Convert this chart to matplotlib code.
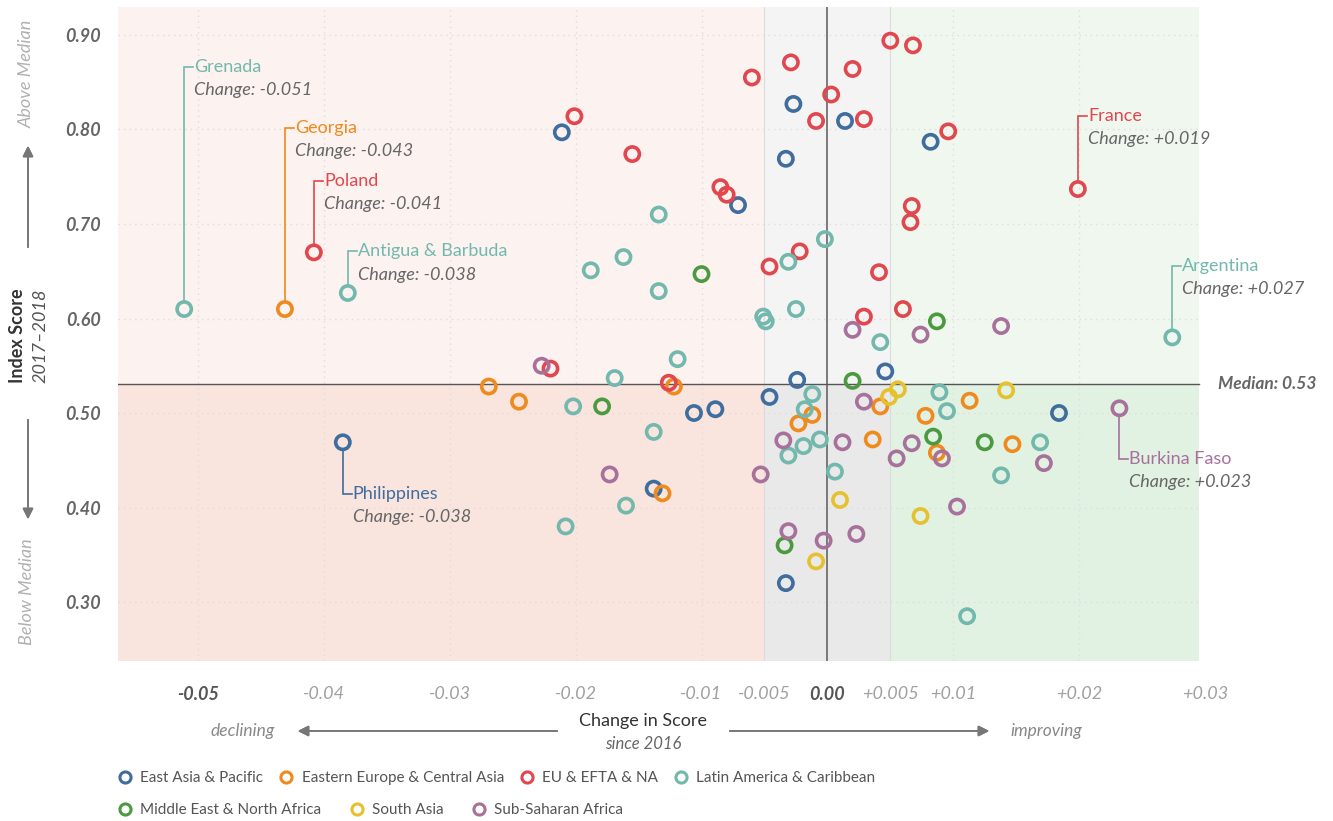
import matplotlib.pyplot as plt
from matplotlib.lines import Line2D

plt.rcParams['font.family'] = ['Lato', 'DejaVu Sans']

# ---- data -------------------------------------------------------------
regions = ['East Asia & Pacific', 'Eastern Europe & Central Asia', 'EU & EFTA & NA',
           'Latin America & Caribbean', 'Middle East & North Africa', 'South Asia',
           'Sub-Saharan Africa']
colors = ['#3f6d9e', '#ee8a1e', '#e0474f', '#72b8ad', '#4b9a3f', '#e6c12f', '#a7719b']

eap_x = [-0.0211, -0.0027, -0.0033, -0.0071, 0.0014, 0.0082, 0.0046, -0.0024, -0.0046,
         -0.0106, -0.0089, 0.0184, -0.0138, -0.0033, -0.0385]
eap_y = [0.797, 0.827, 0.769, 0.720, 0.809, 0.787, 0.544, 0.535, 0.517,
         0.500, 0.504, 0.500, 0.420, 0.320, 0.469]

eeca_x = [-0.0431, -0.0269, -0.0245, -0.0122, -0.0131, -0.0023, -0.0012, 0.0042, 0.0036,
          0.0078, 0.0087, 0.0113, 0.0147]
eeca_y = [0.610, 0.528, 0.512, 0.528, 0.415, 0.489, 0.498, 0.507, 0.472,
          0.497, 0.458, 0.513, 0.467]

eu_x = [-0.0408, 0.0199, -0.0201, -0.0155, -0.0060, -0.0029, 0.0020, 0.0003, -0.0009,
        0.0029, 0.0050, 0.0068, 0.0096, -0.0085, -0.0080, 0.0067, 0.0066, -0.0022,
        -0.0046, 0.0041, 0.0060, 0.0029, -0.0220, -0.0126]
eu_y = [0.670, 0.737, 0.814, 0.774, 0.855, 0.871, 0.864, 0.837, 0.809,
        0.811, 0.894, 0.889, 0.798, 0.739, 0.731, 0.719, 0.702, 0.671,
        0.655, 0.649, 0.610, 0.602, 0.547, 0.532]

lac_x = [-0.0511, -0.0381, 0.0274, -0.0188, -0.0162, -0.0134, -0.0134, -0.0002, -0.0031,
         -0.0025, -0.0051, -0.0049, 0.0042, -0.0119, -0.0169, -0.0202, -0.0138, -0.0160,
         -0.0208, -0.0012, -0.0018, -0.0006, -0.0019, -0.0031, 0.0006, 0.0089, 0.0095,
         0.0169, 0.0138, 0.0111]
lac_y = [0.610, 0.627, 0.580, 0.651, 0.665, 0.710, 0.629, 0.684, 0.660,
         0.610, 0.602, 0.597, 0.575, 0.557, 0.537, 0.507, 0.480, 0.402,
         0.380, 0.520, 0.504, 0.472, 0.465, 0.455, 0.438, 0.522, 0.502,
         0.469, 0.434, 0.285]

mena_x = [-0.0100, -0.0179, 0.0020, 0.0087, 0.0084, 0.0125, -0.0034]
mena_y = [0.647, 0.507, 0.534, 0.597, 0.475, 0.469, 0.360]

sa_x = [0.0056, 0.0049, 0.0142, 0.0010, 0.0074, -0.0009]
sa_y = [0.525, 0.517, 0.524, 0.408, 0.391, 0.343]

ssa_x = [0.0232, 0.0020, 0.0074, 0.0138, -0.0227, 0.0029, -0.0035, 0.0012, 0.0067,
         0.0055, 0.0091, 0.0172, -0.0053, -0.0173, 0.0103, -0.0031, 0.0023, -0.0003]
ssa_y = [0.505, 0.588, 0.583, 0.592, 0.550, 0.512, 0.471, 0.469, 0.468,
         0.452, 0.452, 0.447, 0.435, 0.435, 0.401, 0.375, 0.372, 0.365]

series_x = [eap_x, eeca_x, eu_x, lac_x, mena_x, sa_x, ssa_x]
series_y = [eap_y, eeca_y, eu_y, lac_y, mena_y, sa_y, ssa_y]

median = 0.531

# labelled countries: name, region index, x, y, label level, change text
callouts = [
    ('Grenada', 3, -0.0511, 0.610, 0.866, '-0.051'),
    ('Georgia', 1, -0.0431, 0.610, 0.802, '-0.043'),
    ('Poland', 2, -0.0408, 0.670, 0.746, '-0.041'),
    ('Antigua & Barbuda', 3, -0.0381, 0.627, 0.671, '-0.038'),
    ('Philippines', 0, -0.0385, 0.469, 0.414, '-0.038'),
    ('France', 2, 0.0199, 0.737, 0.814, '+0.019'),
    ('Argentina', 3, 0.0274, 0.580, 0.656, '+0.027'),
    ('Burkina Faso', 6, 0.0232, 0.505, 0.451, '+0.023'),
]

xticks = [-0.05, -0.04, -0.03, -0.02, -0.01, -0.005, 0.0, 0.005, 0.01, 0.02, 0.03]
xtick_labels = ['-0.05', '-0.04', '-0.03', '-0.02', '-0.01', '-0.005', '0.00',
                '+0.005', '+0.01', '+0.02', '+0.03']
yticks = [0.3, 0.4, 0.5, 0.6, 0.7, 0.8, 0.9]

# ---- figure -----------------------------------------------------------
W, H = 1333, 821
fig = plt.figure(figsize=(W / 100, H / 100), dpi=100)
ax = fig.add_axes([118 / W, 1 - 661 / H, 1087 / W, 654 / H])
x0, x1 = -0.05636, 0.0300
xr = 0.0295  # right end of the shaded area
y0, y1 = 0.2376, 0.9296
ax.set_xlim(x0, x1)
ax.set_ylim(y0, y1)

# quadrant backgrounds
bands = [(x0, -0.005, '#fcf2ef', '#f9e4de'),
         (-0.005, 0.005, '#f4f4f4', '#e9e9e9'),
         (0.005, xr, '#f0f7ef', '#e1f1e2')]
for a, b, top, bot in bands:
    ax.fill_between([a, b], median, y1, color=top, lw=0, zorder=0)
    ax.fill_between([a, b], y0, median, color=bot, lw=0, zorder=0)
for xb in (-0.005, 0.005):
    ax.axvline(xb, color='#dcdcdc', lw=0.8, zorder=0.5)

for xt in xticks:
    if xt not in (-0.005, 0.0, 0.005, 0.03):
        ax.axvline(xt, color='#e2dcdc', lw=1, ls=(0, (1, 3)), zorder=0.6)
for yt in yticks:
    ax.plot([x0, xr], [yt, yt], color='#e2dcdc', lw=1, ls=(0, (1, 3)), zorder=0.6)

ax.axvline(0, color='#666666', lw=1.2, zorder=1)
ax.plot([x0, xr], [median, median], color='#555555', lw=1, zorder=1)

for xs, ys, c in zip(series_x, series_y, colors):
    ax.scatter(xs, ys, s=105, facecolors='none', edgecolors=c, linewidths=2.6, zorder=3)

# callouts
ry = 0.0078
dx = 0.0007
for name, ri, px, py, ly, ch in callouts:
    c = colors[ri]
    start = py + ry if ly > py else py - ry
    ax.plot([px, px, px + dx], [start, ly, ly], color=c, lw=1.2, zorder=2,
            solid_joinstyle='miter')
    ax.text(px + dx + 0.0001, ly, name, color=c, fontsize=13, va='center', ha='left')
    ax.text(px + dx + 0.0001, ly - 0.0245, 'Change: ' + ch, color='#666666',
            fontsize=13, style='italic', va='center', ha='left')

ax.annotate('Median: 0.53', xy=(xr, median), xytext=(14, 0), textcoords='offset points',
            color='#666666', fontsize=12.5, style='italic', weight='bold',
            va='center', ha='left')

# ticks
for s in ax.spines.values():
    s.set_visible(False)
ax.set_xticks(xticks)
ax.set_xticklabels(xtick_labels)
ax.set_yticks(yticks)
ax.set_yticklabels(['%.2f' % v for v in yticks])
ax.tick_params(length=0)
ax.tick_params(axis='x', pad=18)
ax.tick_params(axis='y', pad=12)
for lab in ax.get_xticklabels():
    lab.set_fontsize(13)
    lab.set_style('italic')
    if lab.get_text() in ('-0.05', '0.00'):
        lab.set_color('#555555')
        lab.set_weight('bold')
    else:
        lab.set_color('#a0a0a0')
for lab in ax.get_yticklabels():
    lab.set_fontsize(13)
    lab.set_style('italic')
    lab.set_weight('bold')
    lab.set_color('#666666')


def fx(p):
    return p / W


def fy(p):
    return 1 - p / H


# y axis titles
fig.text(fx(18), fy(336), 'Index Score', rotation=90, fontsize=13, weight='bold',
         color='#333333', ha='center', va='center')
fig.text(fx(40), fy(336), '2017\u20132018', rotation=90, fontsize=13, style='italic',
         color='#555555', ha='center', va='center')
fig.text(fx(27), fy(74), 'Above Median', rotation=90, fontsize=13, style='italic',
         color='#b0b0b0', ha='center', va='center')
fig.text(fx(27), fy(592), 'Below Median', rotation=90, fontsize=13, style='italic',
         color='#b0b0b0', ha='center', va='center')
arrow = dict(arrowstyle='-|>', color='#777777', lw=1.2, mutation_scale=16)
fig.add_artist(plt.annotate('', xy=(fx(28), fy(143)), xytext=(fx(28), fy(250)),
                            xycoords='figure fraction', arrowprops=arrow))
fig.add_artist(plt.annotate('', xy=(fx(28), fy(522)), xytext=(fx(28), fy(417)),
                            xycoords='figure fraction', arrowprops=arrow))

# x axis titles
fig.text(fx(643), fy(721), 'Change in Score', fontsize=13, color='#333333',
         ha='center', va='center')
fig.text(fx(643), fy(744), 'since 2016', fontsize=12, style='italic',
         color='#666666', ha='center', va='center')
fig.text(fx(243), fy(731), 'declining', fontsize=12.5, style='italic',
         color='#888888', ha='center', va='center')
fig.text(fx(1046), fy(731), 'improving', fontsize=12.5, style='italic',
         color='#888888', ha='center', va='center')
fig.add_artist(plt.annotate('', xy=(fx(295), fy(731)), xytext=(fx(560), fy(731)),
                            xycoords='figure fraction', arrowprops=arrow))
fig.add_artist(plt.annotate('', xy=(fx(992), fy(731)), xytext=(fx(727), fy(731)),
                            xycoords='figure fraction', arrowprops=arrow))

# legend in two rows
handles = [Line2D([], [], marker='o', ls='none', mfc='none', mec=c, mew=2.2, ms=8)
           for c in colors]
rows = [(0, 4, 778, 1.0), (4, 7, 810, 1.8)]
for a, b, yp, cs in rows:
    leg = fig.legend(handles[a:b], regions[a:b], loc='center left',
                     bbox_to_anchor=(fx(117.5), fy(yp)), ncol=b - a, frameon=False,
                     fontsize=11, handlelength=1, handletextpad=0.5,
                     columnspacing=cs, borderpad=0, borderaxespad=0)
    for t in leg.get_texts():
        t.set_color('#555555')

fig.savefig('out.png', dpi=100, facecolor='white')
